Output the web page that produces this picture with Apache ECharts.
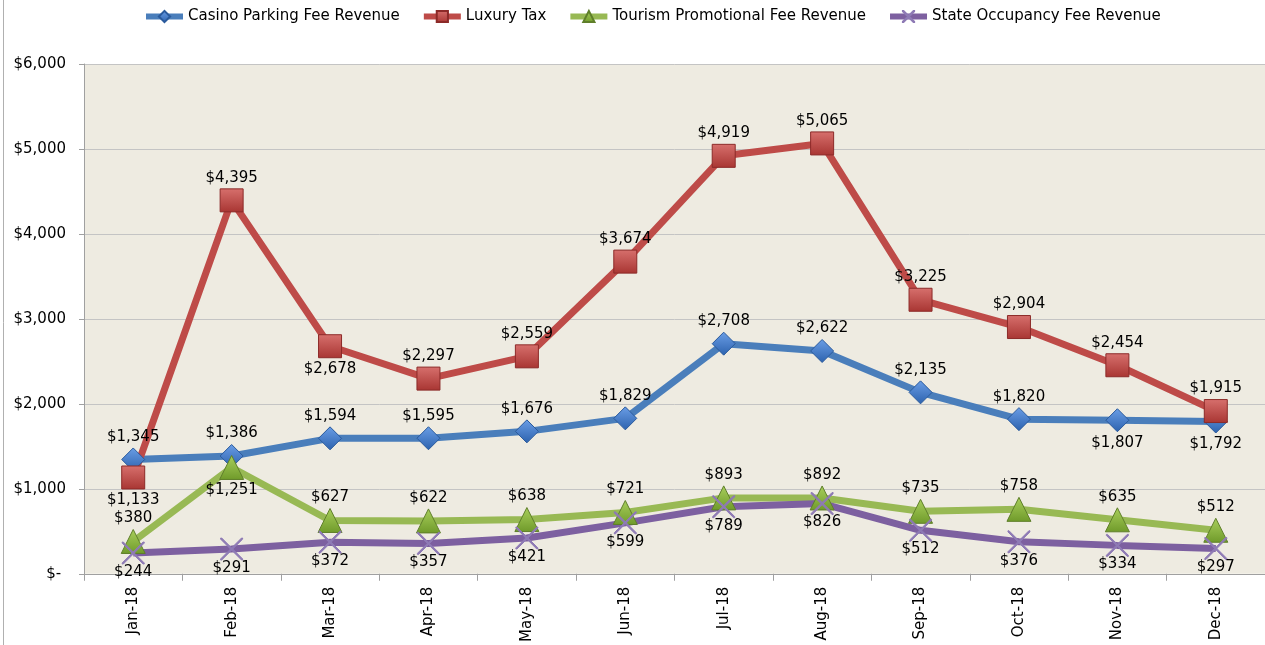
<!DOCTYPE html>
<html><head><meta charset="utf-8">
<script src="https://cdn.jsdelivr.net/npm/echarts@6/dist/echarts.min.js"></script>
<style>html,body{margin:0;padding:0;background:#fff}#c{width:1265px;height:645px}</style>
</head><body><div id="c"></div>
<script>
const categories = ['Jan-18','Feb-18','Mar-18','Apr-18','May-18','Jun-18','Jul-18','Aug-18','Sep-18','Oct-18','Nov-18','Dec-18'];
const casino  = [1345,1386,1594,1595,1676,1829,2708,2622,2135,1820,1807,1792];
const luxury  = [1133,4395,2678,2297,2559,3674,4919,5065,3225,2904,2454,1915];
const tourism = [380,1251,627,622,638,721,893,892,735,758,635,512];
const stateOcc = [244,291,372,357,421,599,789,826,512,376,334,297];
const yTicks = [0,1000,2000,3000,4000,5000,6000];

const casinoPos  = ['top','top','top','top','top','top','top','top','top','top','bottom','bottom'];
const luxuryPos  = ['bottom','top','bottom','top','top','top','top','top','top','top','top','top'];
const tourismPos = ['top','bottom','top','top','top','top','top','top','top','top','top','top'];
const statePos   = ['bottom','bottom','bottom','bottom','bottom','bottom','bottom','bottom','bottom','bottom','bottom','bottom'];

const FONT = 'DejaVu Sans';
function money(v){ return v === 0 ? '$- ' : '$' + v.toLocaleString('en-US'); }
function grad(light, dark){
  return {type:'linear',x:0,y:0,x2:0,y2:1,colorStops:[{offset:0,color:light},{offset:1,color:dark}]};
}
function mk(name, vals, pos, lineColor, symbol, size, fill, border, dist){
  return {
    name, type:'line', data: vals.map((v,i)=>({value:v,label:{position:pos[i]}})),
    symbol, symbolSize:size, showAllSymbol:true,
    lineStyle:{color:lineColor,width:7},
    itemStyle:{color:fill,borderColor:border,borderWidth:1},
    label:{show:true,formatter:p=>money(p.value),fontFamily:FONT,fontSize:15,color:'#000',distance:dist},
    emphasis:{disabled:true}
  };
}
const xPath = 'path://M0,0 L0.5,0 L10,9.5 L10,10 L9.5,10 L0,0.5 Z M9.5,0 L10,0 L10,0.5 L0.5,10 L0,10 L0,9.5 Z';
const chart = echarts.init(document.getElementById('c'));
chart.setOption({
  animation:false,
  backgroundColor:'#fff',
  legend:{
    top:4, left:138, itemGap:21, itemWidth:37, itemHeight:14,
    lineStyle:{width:6},
    textStyle:{fontFamily:FONT,fontSize:15,color:'#000'},
    data:['Casino Parking Fee Revenue','Luxury Tax','Tourism Promotional Fee Revenue','State Occupancy Fee Revenue']
  },
  grid:{left:84,right:-3,top:64,bottom:70,show:true,backgroundColor:'#eeebe1',borderWidth:0},
  xAxis:{
    type:'category', data:categories, boundaryGap:true,
    axisLine:{lineStyle:{color:'#a0a0a0',width:1}},
    axisTick:{show:true,length:7,lineStyle:{color:'#a0a0a0'}},
    axisLabel:{rotate:90,margin:13,fontFamily:FONT,fontSize:15,color:'#000'}
  },
  yAxis:{
    type:'value', min:0, max:6000, interval:1000,
    axisLine:{show:true,lineStyle:{color:'#a0a0a0'}},
    axisTick:{show:true,length:5,lineStyle:{color:'#a0a0a0'}},
    splitLine:{lineStyle:{color:'#c4c4c4',width:1}},
    axisLabel:{margin:18,fontFamily:FONT,fontSize:15,color:'#000',formatter:v=>money(v)}
  },
  graphic:[{type:'line',shape:{x1:3.5,y1:0,x2:3.5,y2:645},style:{stroke:'#b0b0b0',lineWidth:1}}],
  series:[
    mk('Casino Parking Fee Revenue', casino, casinoPos, '#4a7ebb','diamond',23,grad('#6b9ee6','#2c62ae'),'#2a5a9c',3),
    mk('Luxury Tax', luxury, luxuryPos, '#be4b48','rect',23,grad('#d7706d','#a83532'),'#8c2a28',3),
    mk('Tourism Promotional Fee Revenue', tourism, tourismPos, '#98b954','triangle',[24,24],grad('#a9cf5c','#6f9a2a'),'#5f7f2a',3),
    mk('State Occupancy Fee Revenue', stateOcc, statePos, '#7d60a0',xPath,22,'#8e7ab5','#8e7ab5',0)
  ]
});
</script></body></html>
